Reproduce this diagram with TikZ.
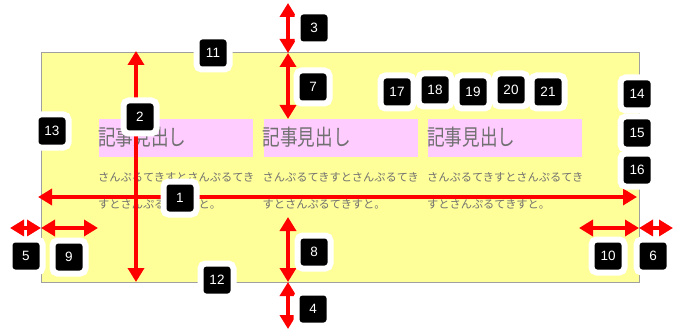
\documentclass[tikz,border=0pt]{standalone}
\usepackage{fontspec}
\setmainfont{Liberation Sans}
\newfontfamily\jphead[FakeStretch=0.8]{Noto Sans CJK JP}
\newfontfamily\jpbody{Noto Sans CJK JP}
\usetikzlibrary{arrows.meta}
\definecolor{pageyellow}{HTML}{FFFF99}
\definecolor{headpink}{HTML}{FFCCFF}
\definecolor{textgray}{HTML}{707070}
\definecolor{bordergray}{HTML}{A0A0A0}
\definecolor{arrowred}{HTML}{FF0000}
\tikzset{
  pagebox/.style={draw=bordergray, line width=1pt, fill=pageyellow, minimum width=598pt, minimum height=229pt, inner sep=0pt},
  headbox/.style={fill=headpink, minimum width=154pt, minimum height=38pt, inner sep=0pt, anchor=north west},
  headtext/.style={font={\jphead\fontsize{22}{26}\selectfont}, text=textgray, inner sep=0pt, anchor=base west},
  bodytext/.style={font={\jpbody\fontsize{11.2}{27}\selectfont}, text=textgray, inner sep=0pt, anchor=base west, align=left},
  dimarrow/.style={draw=arrowred, line width=4pt, {Triangle[length=14pt,width=16pt]}-{Triangle[length=14pt,width=16pt]}},
  lbl/.style={draw=white, line width=6pt, fill=black, rounded corners=5pt, minimum size=33pt, inner sep=0pt, text=white, font=\fontsize{13.5}{15}\selectfont}
}
\begin{document}
\begin{tikzpicture}[x=1pt,y=-1pt]
\useasboundingbox (0,0) rectangle (685,334);
\node[pagebox] (page) at (340,167.5) {};
% columns
\node[headbox] (hb1) at (99,119) {};
\node[headbox] (hb2) at (263.5,119) {};
\node[headbox] (hb3) at (428,119) {};
\node[headtext] (ht1) at (98,146) {記事見出し};
\node[headtext] (ht2) at (262.5,146) {記事見出し};
\node[headtext] (ht3) at (427,146) {記事見出し};
\node[bodytext] (bt1) at (98,208.5) {さんぷるてきすとさんぷるてき\\すとさんぷるてきすと。};
\node[bodytext] (bt2) at (262.5,208.5) {さんぷるてきすとさんぷるてき\\すとさんぷるてきすと。};
\node[bodytext] (bt3) at (427,208.5) {さんぷるてきすとさんぷるてき\\すとさんぷるてきすと。};
% arrow end points
\coordinate (a1l) at (38,197);
\coordinate (a1r) at (637,197);
\coordinate (a2t) at (136,51);
\coordinate (a2b) at (136,282);
\coordinate (v0) at (288,3);
\coordinate (v1) at (288,53);
\coordinate (v2) at (288,119);
\coordinate (v3) at (288,217);
\coordinate (v4) at (288,282);
\coordinate (v5) at (288,329);
\coordinate (h0) at (10,228);
\coordinate (h1) at (41,228);
\coordinate (h2) at (98,228);
\coordinate (h3) at (579,228);
\coordinate (h4) at (639,228);
\coordinate (h5) at (673,228);
% arrows
\draw[dimarrow] (a1l) -- (a1r);
\draw[dimarrow] (a2t) -- (a2b);
\draw[dimarrow] (v0) -- (v1);
\draw[dimarrow] (v1) -- (v2);
\draw[dimarrow] (v3) -- (v4);
\draw[dimarrow] (v4) -- (v5);
\draw[dimarrow] (h0) -- (h1);
\draw[dimarrow] (h1) -- (h2);
\draw[dimarrow] (h3) -- (h4);
\draw[dimarrow] (h4) -- (h5);
% labels
\node[lbl] (n1) at (180,198) {1};
\node[lbl] (n2) at (140,117) {2};
\node[lbl] (n3) at (314,28) {3};
\node[lbl] (n4) at (313,309) {4};
\node[lbl] (n5) at (26,256) {5};
\node[lbl] (n6) at (653,256) {6};
\node[lbl] (n7) at (313,87) {7};
\node[lbl] (n8) at (314,252) {8};
\node[lbl] (n9) at (69,257) {9};
\node[lbl] (n10) at (608,256) {10};
\node[lbl] (n11) at (213,53) {11};
\node[lbl] (n12) at (217,280) {12};
\node[lbl] (n13) at (52,131) {13};
\node[lbl] (n14) at (637,94) {14};
\node[lbl] (n15) at (637,133) {15};
\node[lbl] (n16) at (637,170) {16};
\node[lbl] (n17) at (397,92) {17};
\node[lbl] (n18) at (435,90) {18};
\node[lbl] (n19) at (473,92) {19};
\node[lbl] (n20) at (511,90) {20};
\node[lbl] (n21) at (548,92) {21};
\end{tikzpicture}
\end{document}
